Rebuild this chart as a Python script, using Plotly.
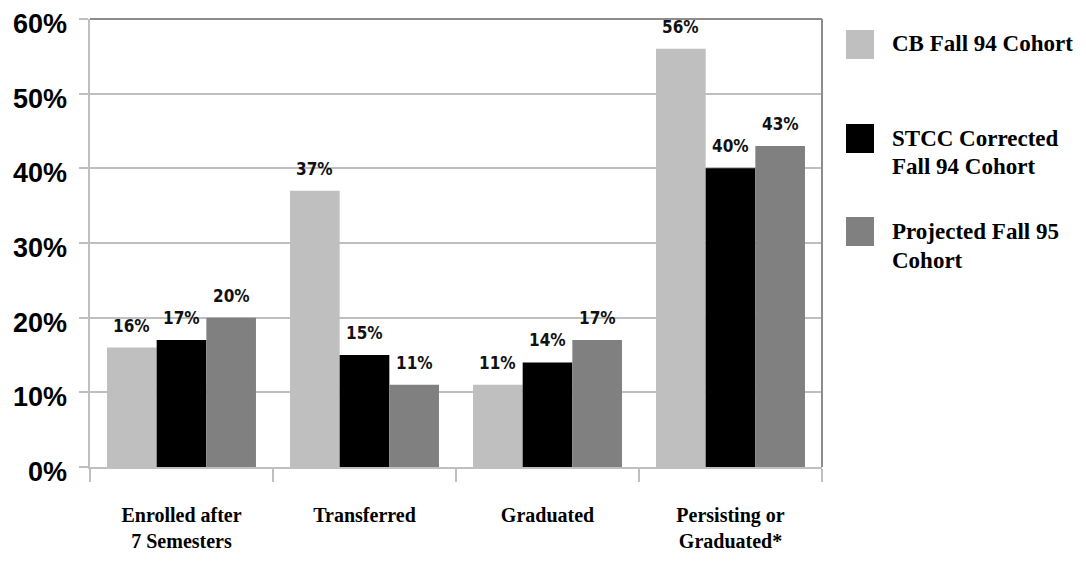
import plotly.graph_objects as go

categories = ["Enrolled after<br>7 Semesters", "Transferred", "Graduated", "Persisting or<br>Graduated*"]
series_names = ["CB Fall 94 Cohort", "STCC Corrected<br>Fall 94 Cohort", "Projected Fall 95<br>Cohort"]
cb_fall94 = [0.16, 0.37, 0.11, 0.56]
stcc_fall94 = [0.17, 0.15, 0.14, 0.40]
proj_fall95 = [0.20, 0.11, 0.17, 0.43]
series_values = [cb_fall94, stcc_fall94, proj_fall95]
colors = ["#bfbfbf", "#000000", "#808080"]
y_ticks = [0, 0.1, 0.2, 0.3, 0.4, 0.5, 0.6]
y_tick_labels = ["0%", "10%", "20%", "30%", "40%", "50%", "60%"]

OFF = 8  # default page body margin
W, H = 1086 - 2 * OFF, 563 - 2 * OFF
ML, MT = 90 - OFF, 19 - OFF
MR = W - (822 - OFF)
MB = H - (467 - OFF)
PW, PH = W - ML - MR, H - MT - MB
BARGAP = 0.186

def px_x(px):
    return (px - OFF - ML) / PW

def px_y(py):
    return (H - MB - (py - OFF)) / PH

fig = go.Figure()
for name, vals, col in zip(series_names, series_values, colors):
    fig.add_trace(go.Bar(x=categories, y=vals, name=name, marker_color=col,
                         marker_line_width=0, showlegend=False))

bar_w = PW / len(categories) * (1 - BARGAP) / len(series_values)
n = len(series_values)
for i, vals in enumerate(series_values):
    for c, v in zip(categories, vals):
        fig.add_annotation(x=c, y=v, xref="x", yref="y", text=f"<b>{round(v*100)}%</b>",
                           showarrow=False, xshift=(i - (n - 1) / 2) * bar_w, yshift=22,
                           font=dict(family="DejaVu Sans Condensed, Liberation Sans Narrow, Liberation Sans, Arial",
                                     size=17, color="#111111"))

# y tick labels (slightly below their gridlines, as in the reference)
for tv, tl in zip(y_ticks, y_tick_labels):
    fig.add_annotation(xref="paper", yref="y", x=0, y=tv, text=f"<b>{tl}</b>",
                       xanchor="right", yanchor="middle", showarrow=False,
                       xshift=-21, yshift=-5,
                       font=dict(family="Liberation Sans, Arial, sans-serif", size=27, color="#000"))

# manual legend
sq_tops = [30, 124, 217]
line_centers = [[43], [138, 166], [231, 260]]
for name, col, top, centers in zip(series_names, colors, sq_tops, line_centers):
    fig.add_shape(type="rect", xref="paper", yref="paper",
                  x0=px_x(846), x1=px_x(874), y0=px_y(top + 29), y1=px_y(top),
                  fillcolor=col, line_width=0)
    for line, cy in zip(name.split("<br>"), centers):
        fig.add_annotation(xref="paper", yref="paper", x=px_x(890), y=px_y(cy),
                           xanchor="left", yanchor="middle", align="left", showarrow=False,
                           text=f"<b>{line}</b>",
                           font=dict(family="Liberation Serif, Times New Roman, serif", size=23, color="#000"))

# darker top and right border
fig.add_shape(type="line", xref="paper", yref="paper", x0=0, x1=1, y0=1, y1=1,
              line=dict(color="#8c8c8c", width=2))
fig.add_shape(type="line", xref="paper", yref="paper", x0=1, x1=1, y0=1, y1=0,
              line=dict(color="#8c8c8c", width=2))

fig.update_layout(
    width=W, height=H, margin=dict(l=ML, r=MR, t=MT, b=MB, autoexpand=False),
    paper_bgcolor="white", plot_bgcolor="white",
    barmode="group", bargap=BARGAP, bargroupgap=0,
    showlegend=False,
)
fig.update_xaxes(showline=True, linecolor="#bfbfbf", linewidth=2, automargin=False,
                 tickson="boundaries", ticks="outside", ticklen=13, tickcolor="#bfbfbf", tickwidth=2,
                 showgrid=False, ticklabelstandoff=29,
                 tickfont=dict(family="Liberation Serif, Times New Roman, serif", size=20, color="#000", weight="bold"))
fig.update_yaxes(range=[0, 0.6], tickvals=y_ticks, showticklabels=False, automargin=False,
                 showline=True, linecolor="#bfbfbf", linewidth=2,
                 ticks="outside", ticklen=9, tickcolor="#bfbfbf", tickwidth=2,
                 showgrid=True, gridcolor="#bfbfbf", gridwidth=2, zeroline=False)

fig.write_html("out.html")
